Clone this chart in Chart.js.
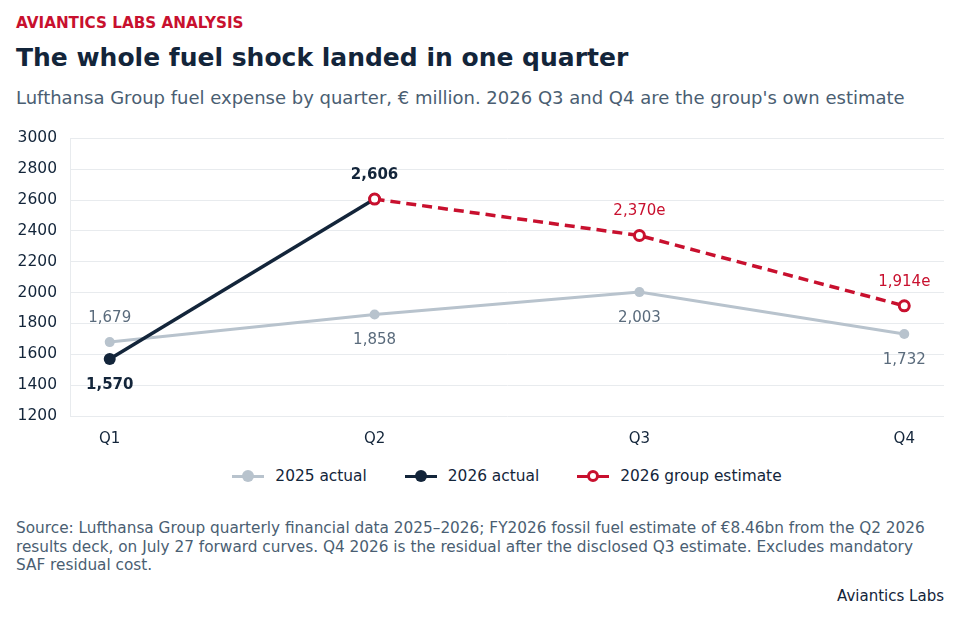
<!DOCTYPE html>
<html>
<head>
<meta charset="utf-8">
<script src="https://cdn.jsdelivr.net/npm/chart.js@4.4.1/dist/chart.umd.min.js"></script>
<style>
  body { margin: 0; background: #fff; font-family: 'DejaVu Sans', sans-serif; }
  #page { position: relative; width: 960px; height: 620px; overflow: hidden; }
  .kicker { position: absolute; left: 16px; top: 14px; font-size: 15.2px; font-weight: bold; color: #c8102e; }
  .title { position: absolute; left: 16px; top: 43px; font-size: 25px; font-weight: bold; color: #13253a; }
  .subtitle { position: absolute; left: 16px; top: 87px; font-size: 18px; color: #4a5e72; }
  #chartBox { position: absolute; left: 0; top: 116px; width: 960px; height: 344px; }
  #legend { position: absolute; left: 70px; top: 466px; width: 874px; display: flex; justify-content: center; gap: 38px; font-size: 15.4px; color: #13253a; }
  .item { display: flex; align-items: center; gap: 11px; }
  .key { position: relative; width: 32px; height: 20px; }
  .key .ln { position: absolute; left: 0; right: 0; top: 8.5px; height: 3px; }
  .key .dot { position: absolute; left: 10px; top: 4px; width: 12px; height: 12px; border-radius: 50%; box-sizing: border-box; }
  .source { position: absolute; left: 16px; top: 519px; width: 925px; font-size: 15.3px; line-height: 18.5px; color: #4a5e72; }
  .brand { position: absolute; right: 16px; top: 587px; font-size: 15px; color: #13253a; }
</style>
</head>
<body>
<div id="page">
  <div class="kicker">AVIANTICS LABS ANALYSIS</div>
  <div class="title">The whole fuel shock landed in one quarter</div>
  <div class="subtitle">Lufthansa Group fuel expense by quarter, € million. 2026 Q3 and Q4 are the group's own estimate</div>
  <div id="chartBox"><canvas id="fuelChart"></canvas></div>
  <div id="legend">
    <div class="item"><div class="key"><div class="ln" style="background:#b8c3cd"></div><div class="dot" style="background:#b8c3cd"></div></div>2025 actual</div>
    <div class="item"><div class="key"><div class="ln" style="background:#13253a"></div><div class="dot" style="background:#13253a"></div></div>2026 actual</div>
    <div class="item"><div class="key"><div class="ln" style="background:#c8102e"></div><div class="dot" style="background:#fff;border:3px solid #c8102e"></div></div>2026 group estimate</div>
  </div>
  <div class="source">Source: Lufthansa Group quarterly financial data 2025–2026; FY2026 fossil fuel estimate of €8.46bn from the Q2 2026 results deck, on July 27 forward curves. Q4 2026 is the residual after the disclosed Q3 estimate. Excludes mandatory SAF residual cost.</div>
  <div class="brand">Aviantics Labs</div>
</div>
<script>
const quarters = ['Q1', 'Q2', 'Q3', 'Q4'];
const fuel2025 = [1679, 1858, 2003, 1732];
const fuel2026 = [1570, 2606, null, null];
const estimate2026 = [null, 2606, 2370, 1914];
const yTicks = [1200, 1400, 1600, 1800, 2000, 2200, 2400, 2600, 2800, 3000];

// label text and whether it sits above or below the point
const labels2025 = ['1,679', '1,858', '2,003', '1,732'];
const labels2026 = ['1,570', '2,606', null, null];
const labelsEst = [null, null, '2,370e', '1,914e'];
const above2025 = [true, false, false, false];
const above2026 = [false, true, false, false];

function toPoints(values) {
    return values.map((v, i) => ({ x: i, y: v }));
}

const labelPlugin = {
    id: 'pointLabels',
    afterDatasetsDraw(chart) {
        const ctx = chart.ctx;
        const sets = [
            { idx: 0, text: labels2025, above: above2025, color: '#5a6b7c', weight: 'normal' },
            { idx: 1, text: labels2026, above: above2026, color: '#13253a', weight: 'bold' },
            { idx: 2, text: labelsEst, above: [true, true, true, true], color: '#c8102e', weight: 'normal' },
        ];
        ctx.save();
        ctx.textAlign = 'center';
        ctx.textBaseline = 'middle';
        sets.forEach(s => {
            const meta = chart.getDatasetMeta(s.idx);
            meta.data.forEach((pt, i) => {
                if (!s.text[i]) return;
                ctx.font = s.weight + ' 15px "DejaVu Sans"';
                ctx.fillStyle = s.color;
                const dy = s.above[i] ? -24 : 26;
                ctx.fillText(s.text[i], pt.x, pt.y + dy);
            });
        });
        ctx.restore();
    }
};

new Chart(document.getElementById('fuelChart'), {
    type: 'line',
    data: {
        datasets: [
            {
                label: '2025 actual',
                data: toPoints(fuel2025),
                borderColor: '#b8c3cd',
                backgroundColor: '#b8c3cd',
                borderWidth: 3,
                pointRadius: 5,
                pointBorderWidth: 0,
                order: 3,
            },
            {
                label: '2026 actual',
                data: toPoints(fuel2026),
                borderColor: '#13253a',
                backgroundColor: '#13253a',
                borderWidth: 3.5,
                pointRadius: 6,
                pointBorderWidth: 0,
                order: 2,
            },
            {
                label: '2026 group estimate',
                data: toPoints(estimate2026),
                borderColor: '#c8102e',
                backgroundColor: '#ffffff',
                borderWidth: 3.5,
                borderDash: [10, 6],
                pointRadius: 5,
                pointBorderWidth: 3,
                order: 1,
            },
        ]
    },
    options: {
        responsive: true,
        maintainAspectRatio: false,
        animation: false,
        layout: { padding: { top: 13, right: 16, left: 0, bottom: 0 } },
        plugins: {
            legend: { display: false },
            tooltip: { enabled: false },
        },
        scales: {
            x: {
                type: 'linear',
                min: -0.15,
                max: 3.15,
                afterBuildTicks(axis) {
                    axis.ticks = quarters.map((q, i) => ({ value: i }));
                },
                afterFit(axis) { axis.height = 44; },
                grid: { display: false },
                border: { display: false },
                ticks: {
                    callback: v => quarters[v],
                    color: '#13253a',
                    padding: 6,
                    font: { family: 'DejaVu Sans', size: 15 },
                },
            },
            y: {
                min: 1200,
                max: 3000,
                afterBuildTicks(axis) {
                    axis.ticks = yTicks.map(v => ({ value: v }));
                },
                afterFit(axis) { axis.width = 70; },
                grid: { color: '#e8ebee', lineWidth: 1, drawTicks: false },
                border: { display: true, color: '#e8ebee' },
                ticks: {
                    callback: v => String(v),
                    color: '#13253a',
                    padding: 13,
                    font: { family: 'DejaVu Sans', size: 15.5 },
                },
            },
        },
    },
    plugins: [labelPlugin],
});
</script>
</body>
</html>
